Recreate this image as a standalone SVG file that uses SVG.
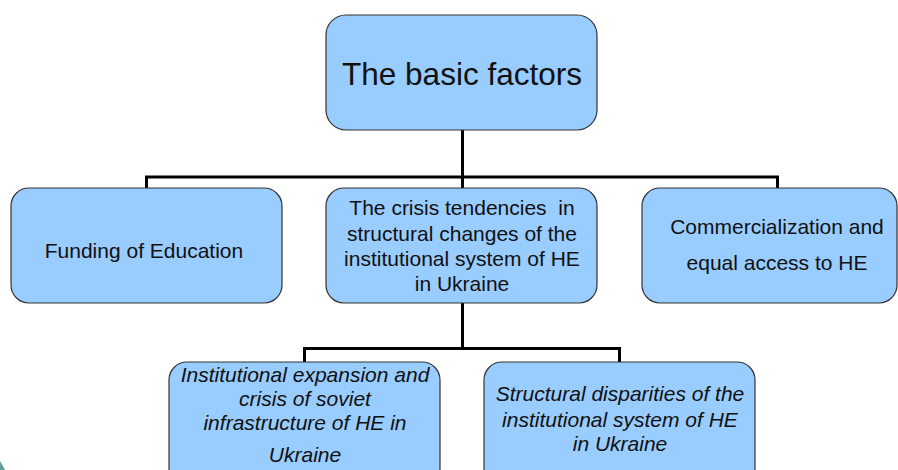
<svg xmlns="http://www.w3.org/2000/svg" width="898" height="470" viewBox="0 0 898 470">
<style>
.box{fill:#99ccff;stroke:#333;stroke-width:1.2}
.t{font-family:"Liberation Sans",Arial,sans-serif;font-size:21px;fill:#111;text-anchor:middle}
.i{font-style:italic}
.c{fill:none;stroke:#000;stroke-width:3}
</style>
<rect width="898" height="470" fill="#fff"/>
<path d="M0,461 Q2.5,465 5,470 L0,470 Z" fill="#5f9e98"/>
<g id="connectors">
<path class="c" d="M462.5,130 V177 M146.5,188 V177 H777.5 V188 M462.5,177 V188"/>
<path class="c" d="M462.5,303 V348.5 M304.5,362 V348.5 H619.5 V362"/>
</g>
<g id="top">
<rect class="box" x="326" y="15" width="271" height="115" rx="20"/>
<text class="t" x="462" y="85" style="font-size:31.5px">The basic factors</text>
</g>
<g id="funding">
<rect class="box" x="11" y="188" width="271" height="115" rx="18"/>
<text class="t" x="144" y="258">Funding of Education</text>
</g>
<g id="crisis">
<rect class="box" x="326" y="188" width="271" height="115" rx="18"/>
<text class="t" x="462" y="215" xml:space="preserve" style="white-space:pre">The crisis tendencies  in</text>
<text class="t" x="462" y="241">structural changes of the</text>
<text class="t" x="462" y="266">institutional system of HE</text>
<text class="t" x="462" y="291">in Ukraine</text>
</g>
<g id="commercial">
<rect class="box" x="642" y="188" width="255" height="115" rx="18"/>
<text class="t" x="777" y="234">Commercialization and</text>
<text class="t" x="777" y="270">equal access to HE</text>
</g>
<g id="expansion">
<rect class="box" x="169" y="362" width="271" height="125" rx="18"/>
<text class="t i" x="305" y="382">Institutional expansion and</text>
<text class="t i" x="305" y="406">crisis of soviet</text>
<text class="t i" x="305" y="430">infrastructure of HE in</text>
<text class="t i" x="305" y="462">Ukraine</text>
</g>
<g id="disparities">
<rect class="box" x="484" y="362" width="271" height="125" rx="18"/>
<text class="t i" x="620" y="401">Structural disparities of the</text>
<text class="t i" x="620" y="427">institutional system of HE</text>
<text class="t i" x="620" y="451">in Ukraine</text>
</g>
</svg>
